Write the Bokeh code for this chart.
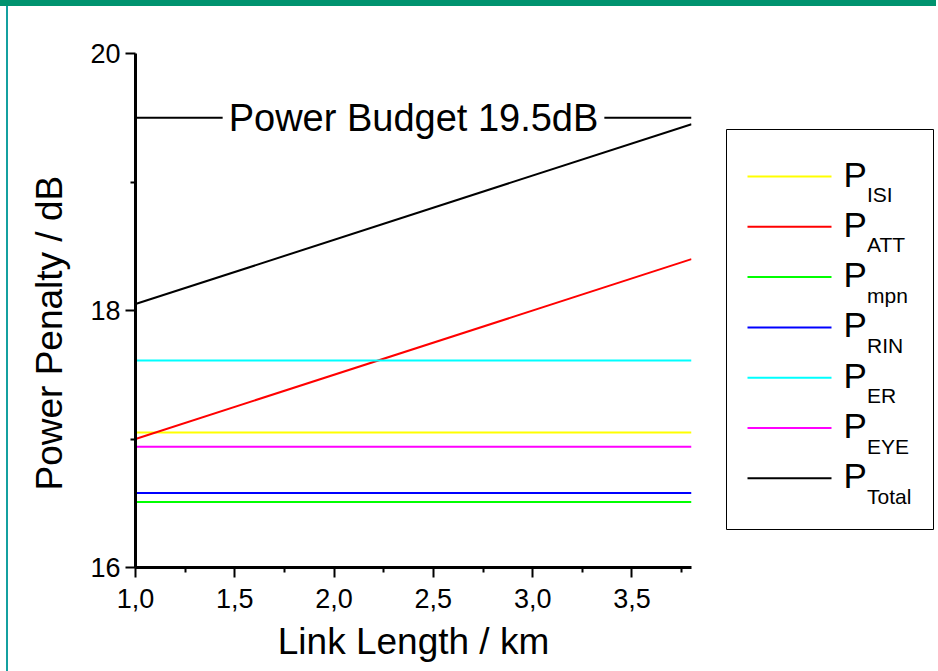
from bokeh.plotting import figure
from bokeh.models import Range1d, FixedTicker, Span, Label, Div, Title
from bokeh.layouts import row, column
from bokeh.core.properties import value
from bokeh.embed import file_html
from bokeh.resources import INLINE

# ---------------- data ----------------
link_length = [1.0, 3.8]                      # km
p_isi = [17.05, 17.05]
p_att = [17.00, 18.40]
p_mpn = [16.51, 16.51]
p_rin = [16.58, 16.58]
p_er = [17.61, 17.61]
p_eye = [16.94, 16.94]
p_total = [18.05, 19.45]
power_budget = 19.5

series_names = ["ISI", "ATT", "mpn", "RIN", "ER", "EYE", "Total"]
series_values = [p_isi, p_att, p_mpn, p_rin, p_er, p_eye, p_total]
series_colors = ["#FFFF00", "#FF0000", "#00FF00", "#0000FF", "#00FFFF", "#FF00FF", "#000000"]

x_ticks = [1.0, 1.5, 2.0, 2.5, 3.0, 3.5]
x_tick_labels = ["1,0", "1,5", "2,0", "2,5", "3,0", "3,5"]
x_minor = [1.25, 1.75, 2.25, 2.75, 3.25, 3.75]
y_ticks = [16, 18, 20]
y_tick_labels = ["16", "18", "20"]
y_minor = [17, 19]

FONT = "Liberation Sans"

# layout constants (pixels)
TOP_BAR = 6
FRAME_W, FRAME_H = 556, 514
B_LEFT, B_RIGHT, B_TOP, B_BOTTOM = 127, 25, 47, 104
LEG_W = 220
TOTAL_W = 8 + B_LEFT + FRAME_W + B_RIGHT + LEG_W

# ---------------- main plot ----------------
p = figure(frame_width=FRAME_W, frame_height=FRAME_H,
           x_range=Range1d(1.0, 3.8), y_range=Range1d(16, 20),
           toolbar_location=None, output_backend="svg",
           min_border_left=B_LEFT, min_border_right=B_RIGHT,
           min_border_top=B_TOP, min_border_bottom=B_BOTTOM,
           background_fill_color="white", border_fill_color="white")
p.outline_line_color = None
p.grid.visible = False

for vals, col in zip(series_values, series_colors):
    p.line(link_length, vals, line_color=col, line_width=2)

p.add_layout(Span(location=power_budget, dimension="width",
                  line_color="black", line_width=2))
p.add_layout(Label(x=2.4, y=power_budget, text=f"Power Budget {power_budget}dB",
                   text_font=FONT, text_font_size="38px", text_color="black",
                   text_align="center", text_baseline="middle",
                   background_fill_color="white", padding=6))

for ax in (p.xaxis[0], p.yaxis[0]):
    ax.axis_line_width = 3
    ax.major_tick_line_width = 2
    ax.minor_tick_line_width = 2
    ax.major_tick_in = 0
    ax.major_tick_out = 10
    ax.minor_tick_in = 0
    ax.minor_tick_out = 5
    ax.major_label_text_font = FONT
    ax.major_label_text_font_size = "27px"
    ax.major_label_text_color = "black"
    ax.axis_label_text_font = FONT
    ax.axis_label_text_font_size = "37px"
    ax.axis_label_text_font_style = "normal"
    ax.axis_label_text_color = "black"

p.xaxis.ticker = FixedTicker(ticks=x_ticks, minor_ticks=x_minor)
p.xaxis.major_label_overrides = dict(zip(x_ticks, x_tick_labels))
p.xaxis.major_label_standoff = 11
p.xaxis.axis_label = "Link Length / km"
p.xaxis.axis_label_standoff = 10

p.yaxis.ticker = FixedTicker(ticks=y_ticks, minor_ticks=y_minor)
p.yaxis.major_label_overrides = dict(zip(y_ticks, y_tick_labels))
p.yaxis.major_label_standoff = 5

# y-axis title as a side title so it can sit lower, like the original
p.add_layout(Title(text="Power Penalty / dB", align="left", offset=77,
                   text_font=FONT, text_font_size="37px",
                   text_font_style="normal", text_color="black",
                   standoff=36), "left")

# ---------------- legend panel (page-pixel coordinates) ----------------
x0 = 8 + B_LEFT + FRAME_W + B_RIGHT
y_top = TOP_BAR + B_TOP
y_bot = y_top + FRAME_H
leg = figure(frame_width=LEG_W, frame_height=FRAME_H,
             x_range=Range1d(x0, x0 + LEG_W), y_range=Range1d(y_bot, y_top),
             toolbar_location=None, output_backend="svg",
             min_border_left=0, min_border_right=0,
             min_border_top=B_TOP, min_border_bottom=B_BOTTOM,
             x_axis_location=None, y_axis_location=None,
             background_fill_color="white", border_fill_color="white")
leg.outline_line_color = None
leg.grid.visible = False

leg.quad(left=[726], right=[933], top=[129], bottom=[529],
         fill_color="white", line_color="black", line_width=1)

n = len(series_names)
rows_y = [176 + i * 50.3 for i in range(n)]
leg.segment(x0=[747] * n, x1=[831] * n, y0=rows_y, y1=rows_y,
            line_color=series_colors, line_width=2)
leg.text(x=[843] * n, y=[r - 2.5 for r in rows_y], text=["P"] * n,
         text_font=value(FONT), text_font_size=value("35px"),
         text_color="black", text_baseline="alphabetic", text_align="left")
leg.text(x=[866.5] * n, y=[r + 18 for r in rows_y], text=series_names,
         text_font=value(FONT), text_font_size=value("21px"),
         text_color="black", text_baseline="alphabetic", text_align="left")

# ---------------- frame decoration ----------------
top_bar = Div(text="", width=TOTAL_W, height=TOP_BAR, margin=0,
              styles={"background-color": "#00936F"})
spacer = Div(text="", width=6, height=B_TOP + FRAME_H + B_BOTTOM, margin=0)
left_bar = Div(text="", width=2, height=B_TOP + FRAME_H + B_BOTTOM, margin=0,
               styles={"background-color": "#14A0A0"})

layout = column(top_bar, row(spacer, left_bar, p, leg))

open("out.html", "w").write(file_html(layout, INLINE))
